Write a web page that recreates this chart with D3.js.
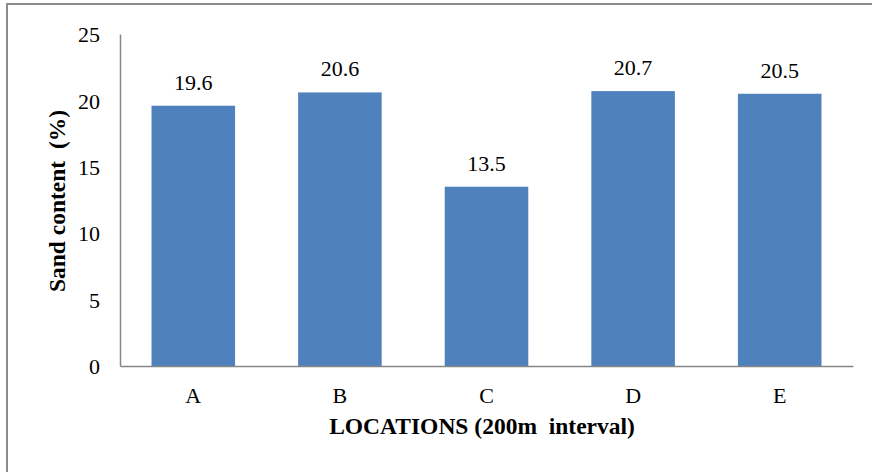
<!DOCTYPE html>
<html><head><meta charset="utf-8">
<script src="https://cdn.jsdelivr.net/npm/d3@7"></script>
<style>body{margin:0;background:#fff}svg{display:block}svg text{font-family:"Liberation Serif","Times New Roman","DejaVu Serif",serif !important;white-space:pre}</style>
</head><body>
<svg id="c" width="872" height="472"></svg>
<script>
const categories = ["A","B","C","D","E"];
const values = [19.6, 20.6, 13.5, 20.7, 20.5];
const yTicks = [0,5,10,15,20,25];
const xTitle = "LOCATIONS (200m  interval)";
const yTitle = "Sand content  (%)";

const FONT = '"Liberation Serif","Times New Roman","DejaVu Serif",serif';
const FS = "22px", TFS = "23.5px";
const svg = d3.select("#c");
svg.append("rect").attr("x",7).attr("y",4).attr("width",900).attr("height",500)
  .attr("fill","#fff").attr("stroke","#8c8c8c").attr("stroke-width",2);

const mLeft=120, mRight=853, mTop=34, mBottom=366;
const x = d3.scaleBand().domain(categories).range([mLeft,mRight]).paddingInner(0.43).paddingOuter(0.215);
const y = d3.scaleLinear().domain([0,25]).range([mBottom,mTop]);

svg.selectAll("rect.bar").data(values).join("rect").attr("class","bar")
  .attr("x",(d,i)=>x(categories[i])).attr("width",x.bandwidth())
  .attr("y",d=>y(d)).attr("height",d=>y(0)-y(d)).attr("fill","#4f81bd");

svg.selectAll("text.val").data(values).join("text").attr("class","val")
  .attr("x",(d,i)=>x(categories[i])+x.bandwidth()/2).attr("y",d=>y(d)-16)
  .attr("text-anchor","middle").style("font-size",FS).style("font-family",FONT).text(d=>d.toFixed(1));

const yAxis = svg.append("g").attr("transform",`translate(${mLeft},0)`)
  .call(d3.axisLeft(y).tickValues(yTicks).tickSize(0).tickPadding(20).tickFormat(d3.format("d")));
yAxis.attr("font-family",null).attr("font-size",null);
yAxis.select(".domain").attr("stroke","#868686").attr("stroke-width",1.5);
yAxis.selectAll("text").style("font-size",FS).attr("fill","#000").style("font-family",FONT).attr("dy","0.35em");

const xAxis = svg.append("g").attr("transform",`translate(0,${mBottom})`)
  .call(d3.axisBottom(x).tickSize(0).tickPadding(21));
xAxis.attr("font-family",null).attr("font-size",null);
xAxis.select(".domain").attr("stroke","#868686").attr("stroke-width",1.5);
xAxis.selectAll("text").style("font-size",FS).attr("fill","#000").style("font-family",FONT);

svg.append("text").attr("x",482).attr("y",434).attr("text-anchor","middle")
  .style("font-size",TFS).style("font-weight","bold").style("font-family",FONT).text(xTitle);
svg.append("text").attr("transform","translate(65,201) rotate(-90)").attr("text-anchor","middle")
  .style("font-size",TFS).style("font-weight","bold").style("font-family",FONT).text(yTitle);
</script>
</body></html>
